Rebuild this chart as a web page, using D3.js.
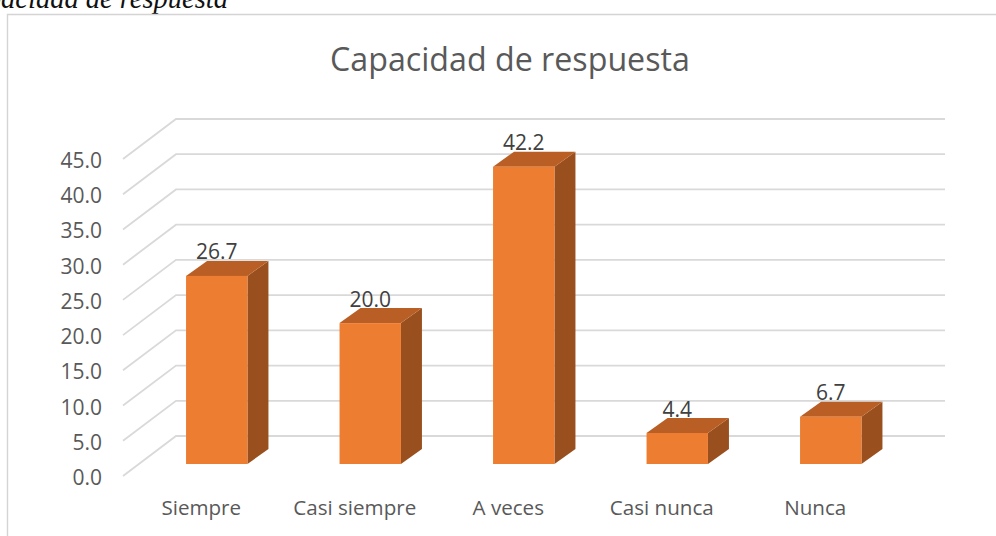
<!DOCTYPE html>
<html><head><meta charset="utf-8">
<script src="https://cdn.jsdelivr.net/npm/d3@7/dist/d3.min.js"></script>
<style>html,body{margin:0;padding:0;background:#fff;overflow:hidden}svg{display:block}text{font-family:"Open Sans",sans-serif}</style>
</head><body><svg id="c" width="996" height="536"></svg>
<script>
const categories = ["Siempre","Casi siempre","A veces","Casi nunca","Nunca"];
const values = [26.7,20.0,42.2,4.4,6.7];
const tickValues = [0,5,10,15,20,25,30,35,40,45];
const chartTitle = "Capacidad de respuesta";
const captionText = "Capacidad de respuesta";

const svg = d3.select("#c");
const h = d3.scaleLinear().domain([0,45]).range([0,317]);
const x = d3.scaleBand().domain(categories).range([140,907.5]).paddingInner(0.6).paddingOuter(0.3);
const wallBase=436, floorFront=476, wallL=176, wallR=945, floorL=123, barBase=464, dx=21, dy=15;

svg.append("text").attr("x",228).attr("y",7.5).attr("text-anchor","end")
  .style("font-family","'Liberation Serif',serif").style("font-style","italic").attr("font-size",28.5).attr("fill","#111").text(captionText);
svg.append("path").attr("d","M7.5,536V14.5H996").attr("fill","none").attr("stroke","#d4d4d4").attr("stroke-width",1.4);
svg.append("text").attr("x",510).attr("y",71).attr("text-anchor","middle").attr("font-size",32.2).attr("fill","#595959").text(chartTitle);

svg.append("g").selectAll("path").data(tickValues).join("path")
  .attr("d",d=>`M${floorL},${floorFront-h(d)}L${wallL},${wallBase-h(d)}H${wallR}`)
  .attr("fill","none").attr("stroke","#d9d9d9").attr("stroke-width",1.8);

svg.append("g").selectAll("text").data(tickValues).join("text")
  .attr("x",102).attr("y",d=>floorFront-h(d)+9).attr("text-anchor","end")
  .attr("font-size",21).attr("fill","#595959").text(d=>d3.format(".1f")(d));

const bars = svg.append("g").selectAll("g").data(categories).join("g");
const bw = x.bandwidth();
bars.append("path").attr("fill","#9a501e").attr("d",(c,i)=>{const X=x(c)+bw,T=barBase-h(values[i]);return `M${X},${T}l${dx},${-dy}V${barBase-dy}l${-dx},${dy}Z`});
bars.append("path").attr("fill","#b95f25").attr("d",(c,i)=>{const X=x(c),T=barBase-h(values[i]);return `M${X},${T}l${dx},${-dy}h${bw}l${-dx},${dy}Z`});
bars.append("rect").attr("fill","#ed7d31").attr("x",c=>x(c)).attr("width",bw)
  .attr("y",(c,i)=>barBase-h(values[i])).attr("height",(c,i)=>h(values[i]));
bars.append("text").attr("x",c=>x(c)+bw/2).attr("y",(c,i)=>barBase-h(values[i])-dy-1.5)
  .attr("text-anchor","middle").attr("font-size",21).attr("fill","#404040").text((c,i)=>d3.format(".1f")(values[i]));
bars.append("text").attr("x",c=>x(c)+bw/2-15.5).attr("y",515).attr("text-anchor","middle")
  .attr("font-size",20.6).attr("fill","#595959").text(c=>c);
</script></body></html>
